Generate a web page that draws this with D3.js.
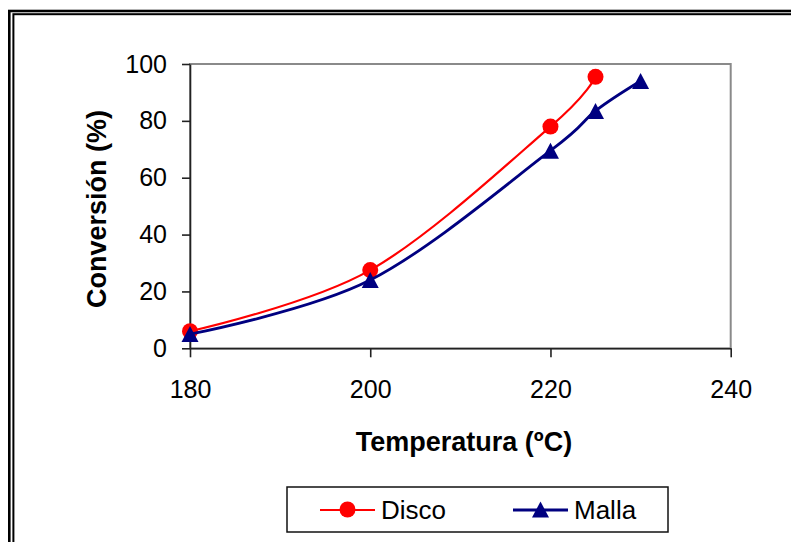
<!DOCTYPE html>
<html>
<head>
<meta charset="utf-8">
<script src="https://cdn.jsdelivr.net/npm/d3@7"></script>
<style>
  body { margin: 0; background: #fff; }
  text { font-family: "Liberation Sans", Arial, sans-serif; fill: #000; }
</style>
</head>
<body>
<div id="main"></div>
<script>
// Data
const discoTemps = [180, 200, 220, 225];
const discoValues = [6, 27.5, 78, 95.5];
const mallaTemps = [180, 200, 220, 225, 230];
const mallaValues = [5, 24, 69.5, 83.5, 94];
const xTicks = [180, 200, 220, 240];
const yTicks = [0, 20, 40, 60, 80, 100];

const series = [
  { name: "Disco", temps: discoTemps, values: discoValues, color: "#ff0000", width: 2.2, marker: "circle" },
  { name: "Malla", temps: mallaTemps, values: mallaValues, color: "#000080", width: 2.8, marker: "triangle" },
];

// Layout config
const width = 791;
const height = 542;
const plot = { left: 190, right: 730.7, top: 64, bottom: 348.3 };

const svg = d3
  .select("#main")
  .append("svg")
  .attr("width", width)
  .attr("height", height);

// Double frame, running off the right and bottom edges
svg
  .append("rect")
  .attr("x", 9.3)
  .attr("y", 11)
  .attr("width", 900)
  .attr("height", 700)
  .attr("fill", "none")
  .attr("stroke", "#000")
  .attr("stroke-width", 2.6);
svg
  .append("rect")
  .attr("x", 13.4)
  .attr("y", 14.2)
  .attr("width", 900)
  .attr("height", 700)
  .attr("fill", "none")
  .attr("stroke", "#000")
  .attr("stroke-width", 2);

// Scales
const x = d3.scaleLinear().domain([180, 240]).range([plot.left, plot.right]);
const y = d3.scaleLinear().domain([0, 100]).range([plot.bottom, plot.top]);

// Plot area border
svg
  .append("rect")
  .attr("x", plot.left)
  .attr("y", plot.top)
  .attr("width", plot.right - plot.left)
  .attr("height", plot.bottom - plot.top)
  .attr("fill", "none")
  .attr("stroke", "#8a8a8a")
  .attr("stroke-width", 2);

// Axes
const xg = svg
  .append("g")
  .attr("transform", `translate(0,${plot.bottom})`)
  .call(d3.axisBottom(x).tickValues(xTicks).tickSize(9).tickPadding(23).tickSizeOuter(0));
const yg = svg
  .append("g")
  .attr("transform", `translate(${plot.left},0)`)
  .call(d3.axisLeft(y).tickValues(yTicks).tickSize(8).tickPadding(15).tickSizeOuter(0));

[xg, yg].forEach((g) => {
  g.selectAll("path, line").attr("stroke", "#222").attr("stroke-width", 1.6);
  g.selectAll("text")
    .attr("fill", "#000")
    .style("font-size", "25px")
    .style("font-family", '"Liberation Sans", Arial, sans-serif');
});

// Axis titles
svg
  .append("text")
  .attr("x", 464)
  .attr("y", 451)
  .attr("text-anchor", "middle")
  .style("font-size", "27px")
  .style("font-weight", "bold")
  .text("Temperatura (ºC)");

svg
  .append("text")
  .attr("transform", "translate(106,209) rotate(-90)")
  .attr("text-anchor", "middle")
  .style("font-size", "27px")
  .style("font-weight", "bold")
  .text("Conversión (%)");

// Markers
function drawMarker(g, kind, cx, cy, color, r) {
  if (kind === "circle") {
    g.append("circle").attr("cx", cx).attr("cy", cy).attr("r", r).attr("fill", color);
  } else {
    g.append("path")
      .attr("d", `M${cx},${cy - r}L${cx + r + 0.5},${cy + r}L${cx - r - 0.5},${cy + r}Z`)
      .attr("fill", color);
  }
}

// Lines
const line = d3
  .line()
  .x((d) => x(d[0]))
  .y((d) => y(d[1]))
  .curve(d3.curveCatmullRom.alpha(0));

series.forEach((s) => {
  const pts = s.temps.map((t, i) => [t, s.values[i]]);
  const g = svg.append("g");
  g.append("path")
    .attr("d", line(pts))
    .attr("fill", "none")
    .attr("stroke", s.color)
    .attr("stroke-width", s.width);
  pts.forEach((p) => drawMarker(g, s.marker, x(p[0]), y(p[1]), s.color, 8));
});

// Legend
const legend = svg.append("g");
legend
  .append("rect")
  .attr("x", 287)
  .attr("y", 487)
  .attr("width", 381)
  .attr("height", 45)
  .attr("fill", "#fff")
  .attr("stroke", "#111")
  .attr("stroke-width", 1.5);

const legendX = [320, 513];
series.forEach((s, i) => {
  const lx = legendX[i];
  legend
    .append("line")
    .attr("x1", lx)
    .attr("x2", lx + 55)
    .attr("y1", 510)
    .attr("y2", 510)
    .attr("stroke", s.color)
    .attr("stroke-width", s.width);
  drawMarker(legend, s.marker, lx + 27.5, 509.5, s.color, 8);
  legend
    .append("text")
    .attr("x", lx + 61)
    .attr("y", 519)
    .style("font-size", "26px")
    .text(s.name);
});
</script>
</body>
</html>
